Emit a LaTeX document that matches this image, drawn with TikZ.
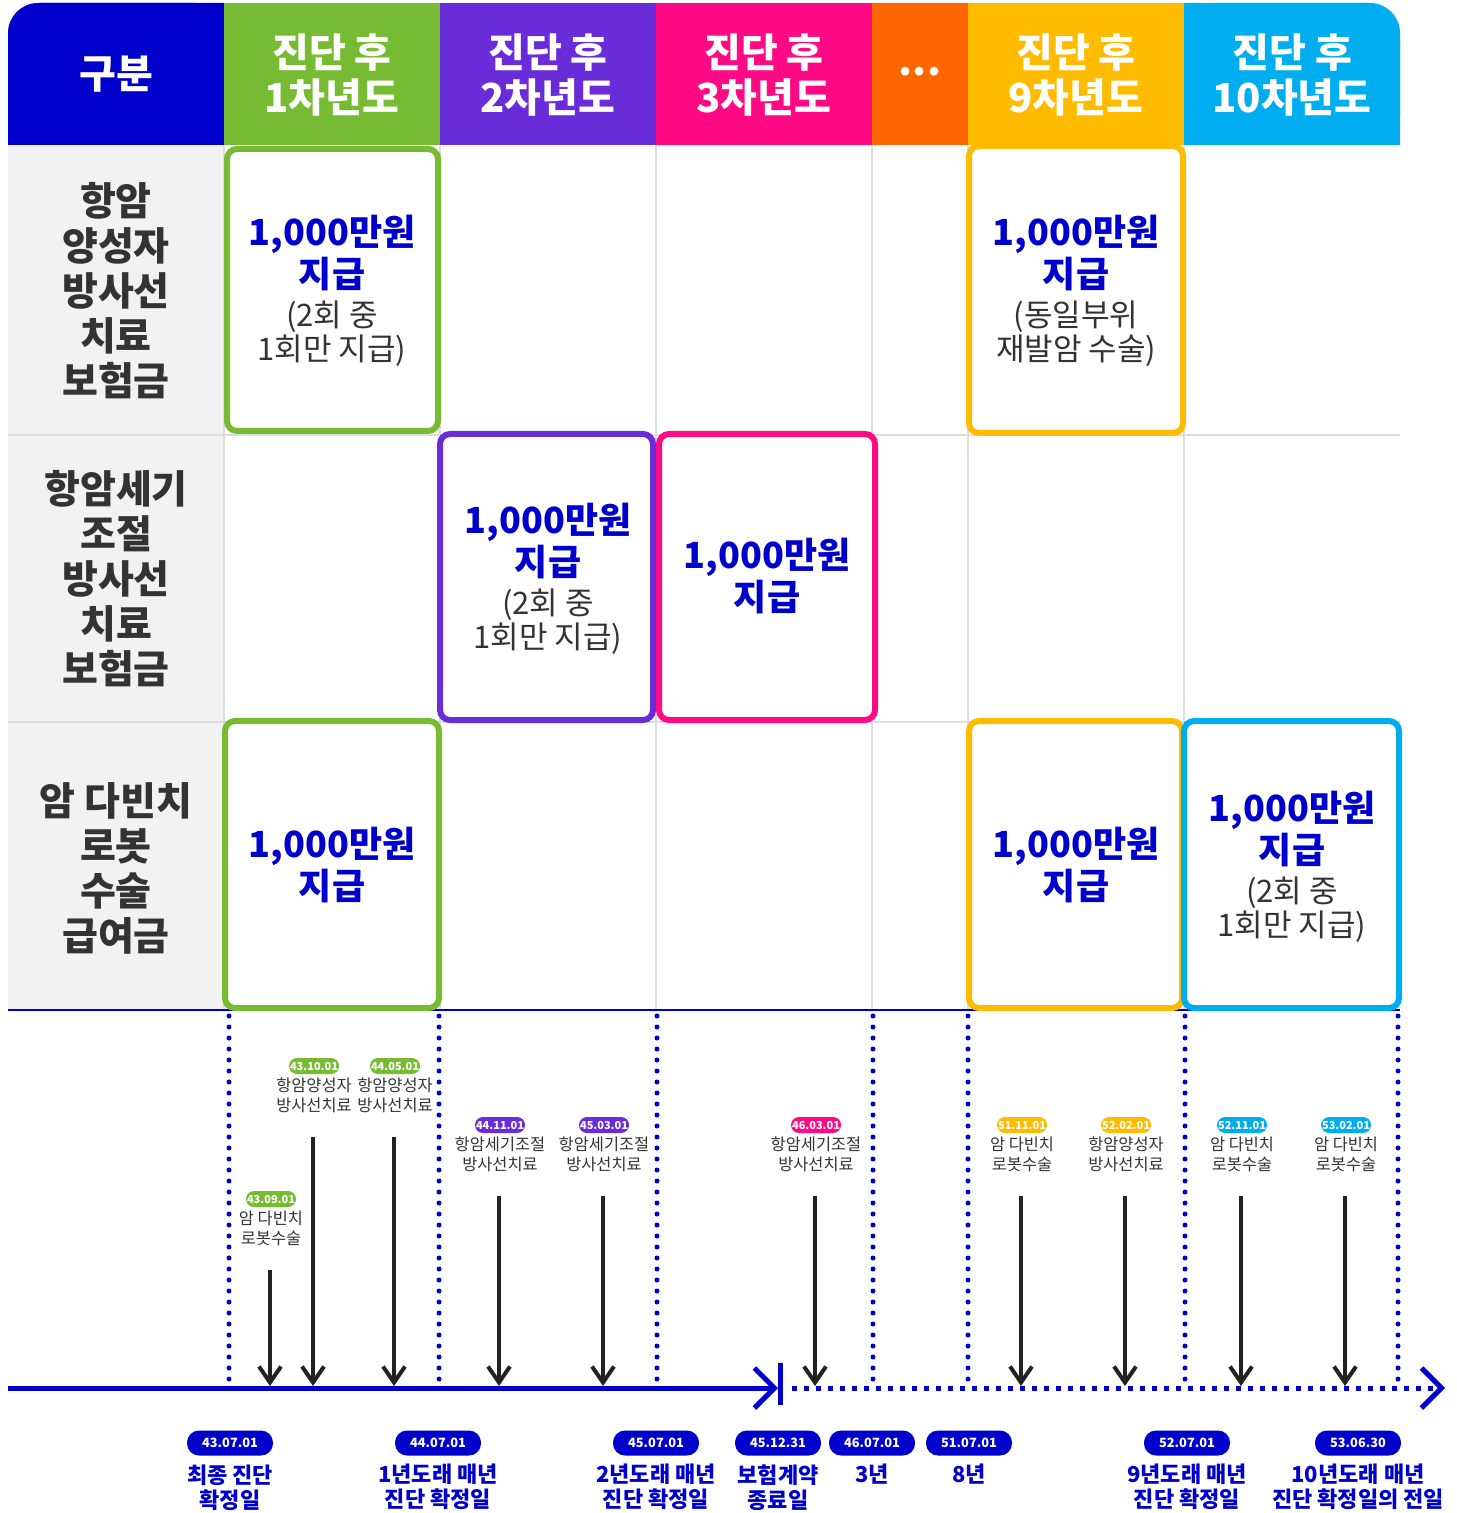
\documentclass[tikz,border=0pt]{standalone}
\usepackage{fontspec}
\setmainfont{Noto Sans CJK KR}
\usetikzlibrary{arrows.meta}
\definecolor{cblue}{HTML}{0000CC}
\definecolor{cgreen}{HTML}{77BB33}
\definecolor{cpurple}{HTML}{6A2BD8}
\definecolor{cmagenta}{HTML}{FF0A84}
\definecolor{corange}{HTML}{FF6600}
\definecolor{cyellow}{HTML}{FFBB00}
\definecolor{ccyan}{HTML}{00AEEF}
\definecolor{cgray}{HTML}{F2F2F2}
\definecolor{cgrid}{HTML}{DDDDDD}
\definecolor{ctext}{HTML}{333333}
\definecolor{carrow}{HTML}{222222}
\tikzset{
  headtxt/.style={text=white,align=center,inner sep=0pt,font=\fontsize{20}{22.5}\selectfont\bfseries},
  rowtxt/.style={text=ctext,align=center,inner sep=0pt,font=\fontsize{19.5}{22.5}\selectfont\bfseries},
  paybox/.style={line width=3pt,fill=white,rounded corners=5pt},
  paytxt/.style={text=cblue,align=center,inner sep=0pt,font=\fontsize{18}{21}\selectfont\bfseries},
  subtxt/.style={text=ctext,align=center,inner sep=0pt,font=\fontsize{15.5}{17}\selectfont},
  gridline/.style={draw=cgrid,line width=0.6pt},
  vdots/.style={draw=cblue,line width=2.5pt,line cap=round,dash pattern=on 0pt off 5.5pt},
  axisline/.style={draw=cblue,line width=2.5pt},
  evarrow/.style={draw=carrow,line width=2pt,-{Straight Barb[length=8pt,width=11pt]}},
  datepill/.style={text=white,rounded corners=4pt,inner sep=0pt,minimum width=25pt,minimum height=8pt,font=\fontsize{5.5}{6}\selectfont\bfseries},
  evtxt/.style={text=ctext,align=center,inner sep=0pt,font=\fontsize{8.2}{10}\selectfont},
  axpill/.style={fill=cblue,text=white,rounded corners=6pt,inner sep=0pt,minimum width=43pt,minimum height=12.5pt,font=\fontsize{6.4}{8}\selectfont\bfseries},
  axtxt/.style={text=cblue,align=center,inner sep=0pt,anchor=north,font=\fontsize{11}{12.5}\selectfont\bfseries}
}
\begin{document}
\begin{tikzpicture}[x=0.5pt,y=-0.5pt]
\useasboundingbox (0,0) rectangle (1456,1513);
\fill[cblue,rounded corners=15pt] (8,3) rectangle (224,145);
\fill[cblue] (40,3) rectangle (224,145) (8,40) rectangle (224,145);
\fill[cgreen] (224,3) rectangle (440,145);
\fill[cpurple] (440,3) rectangle (656,145);
\fill[cmagenta] (656,3) rectangle (872,145);
\fill[corange] (872,3) rectangle (968,145);
\fill[cyellow] (968,3) rectangle (1184,145);
\fill[ccyan,rounded corners=15pt] (1184,3) rectangle (1400,145);
\fill[ccyan] (1184,3) rectangle (1368,145) (1184,40) rectangle (1400,145);
\node[headtxt] (h0) at (116,74) {구분};
\foreach \x/\n [count=\i] in {332/1,548/2,764/3,1076/9,1292/10}
  \node[headtxt] (h\i) at (\x,75) {진단 후\\{\n}차년도};
\node[headtxt] (hdots) at (920,72) {...};
\fill[cgray] (8,145) rectangle (224,1010);
\draw[gridline] (8,435) -- (1400,435) (8,722) -- (1400,722);
\foreach \x in {224,440,656,872,968,1184}
  \draw[gridline] (\x,145) -- (\x,1010);
\draw[cblue,line width=1pt] (8,1010) -- (1400,1010);
\node[rowtxt] (r1) at (116,291) {항암\\양성자\\방사선\\치료\\보험금};
\node[rowtxt] (r2) at (116,579) {항암세기\\조절\\방사선\\치료\\보험금};
\node[rowtxt] (r3) at (116,868) {암 다빈치\\로봇\\수술\\급여금};
\draw[paybox,draw=cgreen] (227,149) rectangle (438,431);
\node[paytxt] (m1) at (332,253) {1,000만원\\지급};
\node[subtxt] (n1) at (332,334) {(2회 중\\1회만 지급)};
\draw[paybox,draw=cyellow] (969,146) rectangle (1183,433);
\node[paytxt] (m2) at (1076,253) {1,000만원\\지급};
\node[subtxt] (n2) at (1076,334) {(동일부위\\재발암 수술)};
\draw[paybox,draw=cpurple] (440,434) rectangle (653,720);
\node[paytxt] (m3) at (548,541) {1,000만원\\지급};
\node[subtxt] (n3) at (548,622) {(2회 중\\1회만 지급)};
\draw[paybox,draw=cmagenta] (659,434) rectangle (875,720);
\node[paytxt] (m4) at (767,576) {1,000만원\\지급};
\draw[paybox,draw=cgreen] (225,721) rectangle (439,1008);
\node[paytxt] (m5) at (332,865) {1,000만원\\지급};
\draw[paybox,draw=cyellow] (969,721) rectangle (1182,1008);
\node[paytxt] (m6) at (1076,865) {1,000만원\\지급};
\draw[paybox,draw=ccyan] (1184,721) rectangle (1399,1008);
\node[paytxt] (m7) at (1292,829) {1,000만원\\지급};
\node[subtxt] (n7) at (1292,910) {(2회 중\\1회만 지급)};
\foreach \x in {229,439,657,873,968,1185,1398}
  \draw[vdots] (\x,1016) -- (\x,1380);
\coordinate (o) at (8,1388);
\coordinate (cut) at (778,1388);
\coordinate (cuttop) at (780,1363);
\coordinate (cutbot) at (780,1405);
\coordinate (go) at (792,1388);
\coordinate (fin) at (1445,1388);
\draw[axisline,-{Straight Barb[length=10pt,width=20pt]}] (o) -- (cut);
\draw[axisline] (cuttop) -- (cutbot);
\draw[axisline,dash pattern=on 2.5pt off 3.5pt,-{Straight Barb[length=10pt,width=20pt]}] (go) -- (fin);
\foreach \x/\d/\c/\t/\y [count=\i] in {
  270/43.09.01/cgreen/{암 다빈치\\로봇수술}/1199,
  313/43.10.01/cgreen/{항암양성자\\방사선치료}/1066,
  394/44.05.01/cgreen/{항암양성자\\방사선치료}/1066,
  499/44.11.01/cpurple/{항암세기조절\\방사선치료}/1125,
  603/45.03.01/cpurple/{항암세기조절\\방사선치료}/1125,
  815/46.03.01/cmagenta/{항암세기조절\\방사선치료}/1125,
  1021/51.11.01/cyellow/{암 다빈치\\로봇수술}/1125,
  1125/52.02.01/cyellow/{항암양성자\\방사선치료}/1125,
  1241/52.11.01/ccyan/{암 다빈치\\로봇수술}/1125,
  1345/53.02.01/ccyan/{암 다빈치\\로봇수술}/1125}
{
  \node[datepill,fill=\c] (p\i) at (\x+1,\y) {\d};
  \node[evtxt] (e\i) at (\x+1,\y+29) {\t};
  \coordinate (s\i) at (\x,\y+71);
  \coordinate (t\i) at (\x,1386);
  \draw[evarrow] (s\i) -- (t\i);
}
\foreach \x/\d/\t [count=\i] in {
  230/43.07.01/{최종 진단\\확정일},
  438/44.07.01/{1년도래 매년\\진단 확정일},
  656/45.07.01/{2년도래 매년\\진단 확정일},
  778/45.12.31/{보험계약\\종료일},
  872/46.07.01/{3년},
  969/51.07.01/{8년},
  1187/52.07.01/{9년도래 매년\\진단 확정일},
  1358/53.06.30/{10년도래 매년\\진단 확정일의 전일}}
{
  \node[axpill] (q\i) at (\x,1443) {\d};
  \node[axtxt] (u\i) at (\x,1464) {\t};
}
\end{tikzpicture}
\end{document}
